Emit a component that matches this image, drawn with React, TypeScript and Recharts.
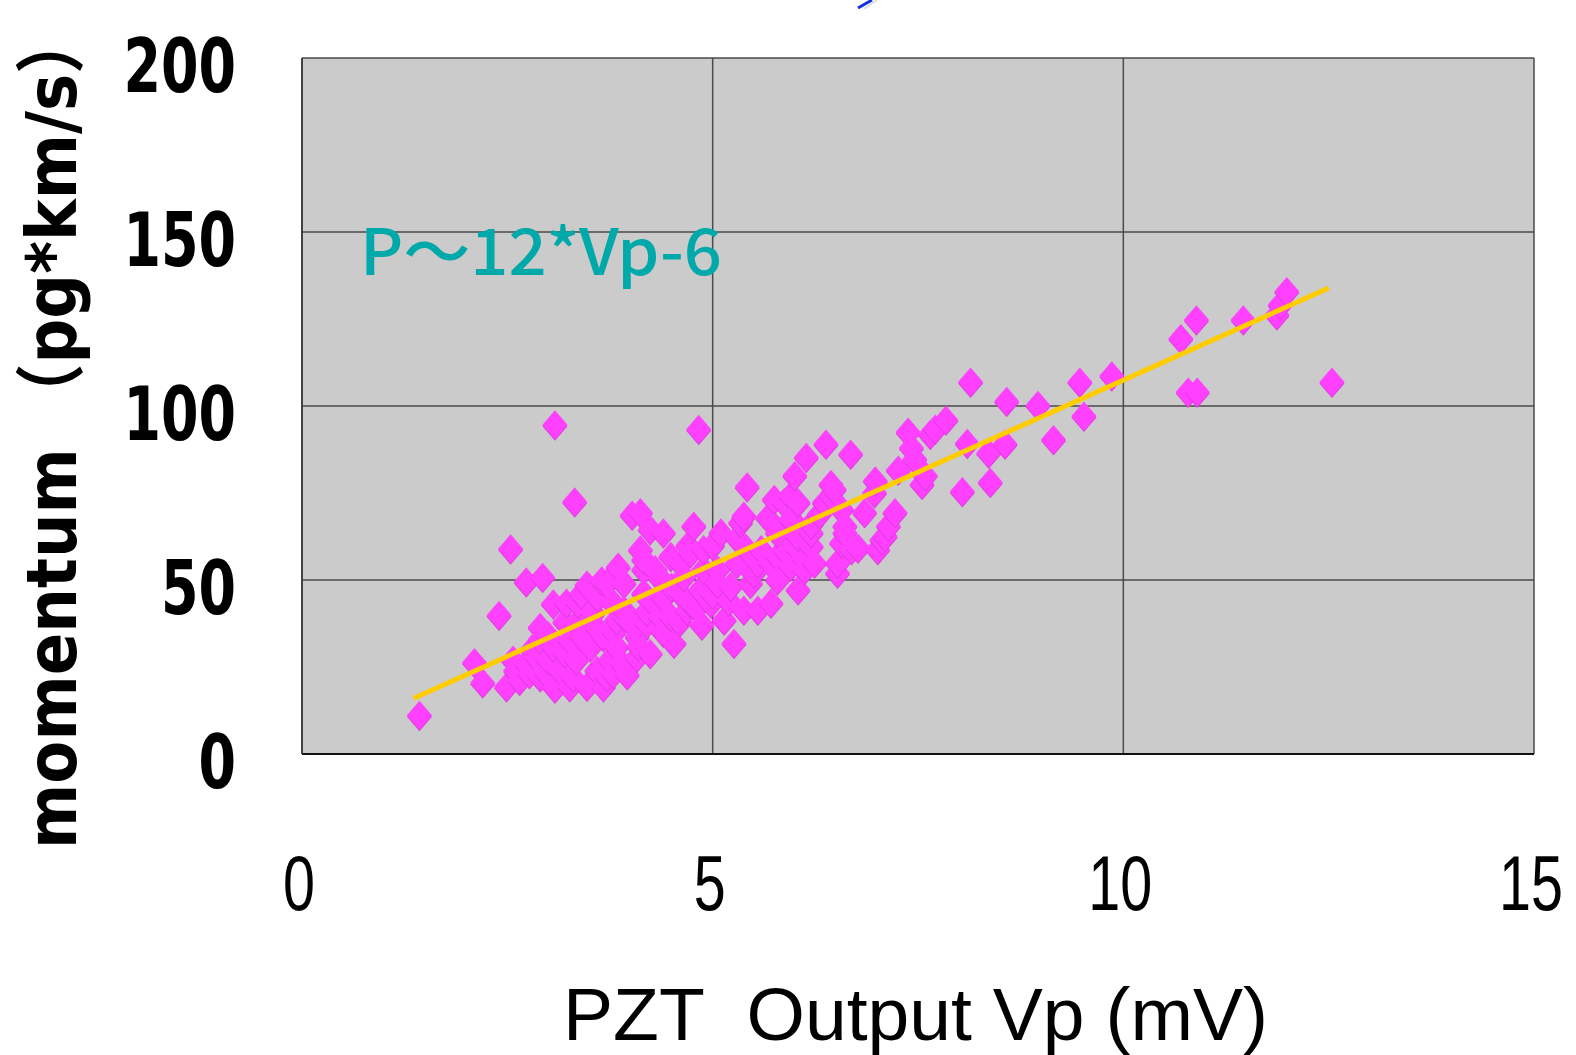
import { CartesianGrid, Scatter, ScatterChart, XAxis, YAxis } from "recharts"

const xTicks = [0, 5, 10, 15]
const yTicks = [0, 50, 100, 150, 200]

// [Vp (mV), momentum (pg*km/s)]
const ptsBelow3 = [
  [1.43, 11.1], [2.1, 26.3], [2.2, 20.5], [2.4, 39.9], [2.49, 19.3], [2.54, 59], [2.57, 27], [2.6, 24],
  [2.65, 21.2], [2.73, 49.5], [2.73, 26], [2.77, 23.1], [2.8, 30], [2.85, 27.9], [2.9, 22.2], [2.9, 36.4],
  [2.9, 33], [2.93, 50.8], [2.98, 23.1],
]
const pts3to4 = [
  [3.0, 27], [3.0, 34], [3.06, 30.8], [3.06, 43.2], [3.08, 19], [3.08, 94.6], [3.14, 24.1], [3.2, 29],
  [3.2, 38], [3.22, 43.4], [3.26, 32.7], [3.26, 19.3], [3.3, 22], [3.32, 72.5], [3.34, 27], [3.34, 37.6],
  [3.36, 43.4], [3.4, 34], [3.4, 46], [3.47, 48.6], [3.47, 19.5], [3.51, 30.8], [3.55, 40.5], [3.59, 24.1],
  [3.6, 36], [3.6, 45], [3.65, 49.8], [3.67, 33.7], [3.67, 19.3], [3.71, 22.2], [3.71, 49.1], [3.75, 27],
  [3.79, 43.4], [3.79, 23.1], [3.8, 35], [3.83, 30.8], [3.83, 38.5], [3.85, 53.7], [3.9, 26], [3.92, 39.5],
  [3.92, 49.1], [3.92, 41.4], [3.96, 22.8],
]
const pts4to5 = [
  [4.0, 38], [4.02, 68.7], [4.08, 33.7], [4.08, 27.9], [4.1, 31], [4.12, 69.4], [4.12, 58.7], [4.16, 53],
  [4.16, 55.9], [4.16, 46.2], [4.2, 37.6], [4.2, 41], [4.24, 64.5], [4.24, 28.9], [4.28, 43.4], [4.3, 53],
  [4.36, 50.6], [4.36, 39.5], [4.4, 63.6], [4.4, 45], [4.4, 35], [4.49, 56.8], [4.49, 39.5], [4.5, 48],
  [4.53, 31.8], [4.6, 38], [4.61, 54.9], [4.61, 46.2], [4.65, 51], [4.69, 41.4], [4.7, 60], [4.73, 57.8],
  [4.73, 43.4], [4.77, 65.5], [4.8, 42], [4.83, 93.3], [4.85, 47.2], [4.87, 37.1], [4.89, 53], [4.89, 58.8],
  [4.98, 43.4],
]
const pts5to6 = [
  [5.0, 46], [5.0, 60], [5.06, 53], [5.06, 49.1], [5.1, 63.6], [5.14, 38.5], [5.2, 44], [5.22, 48.2],
  [5.26, 31.8], [5.3, 54.9], [5.3, 62], [5.34, 66.5], [5.38, 68.4], [5.38, 41.4], [5.42, 76.8], [5.42, 58.8],
  [5.46, 49.1], [5.5, 52], [5.55, 54.9], [5.55, 41.4], [5.59, 58.8], [5.67, 67.9], [5.7, 55], [5.71, 43.4],
  [5.75, 73.2], [5.79, 56.8], [5.79, 63.6], [5.79, 50.1], [5.87, 72.3], [5.9, 58], [5.95, 74.2], [5.95, 54],
  [5.95, 67.4],
]
const pts6to7 = [
  [6.0, 80], [6.0, 66.5], [6.04, 72.3], [6.04, 47.2], [6.04, 58.8], [6.04, 62.6], [6.12, 55.9], [6.12, 53],
  [6.14, 85.3], [6.2, 59.7], [6.2, 63.6], [6.2, 66], [6.24, 54.9], [6.3, 69], [6.36, 72.3], [6.38, 89.1],
  [6.44, 77.5], [6.44, 74.2], [6.48, 76.1], [6.52, 52], [6.52, 54.9], [6.57, 60.7], [6.57, 70.3], [6.61, 65.5],
  [6.61, 63.6], [6.68, 86.2], [6.69, 58.8], [6.77, 59.2], [6.85, 69.4], [6.97, 75.1], [6.98, 78.5], [7.01, 58.8],
]
const ptsAbove7 = [
  [7.06, 61.6], [7.1, 62.6], [7.14, 65.5], [7.22, 69.4], [7.26, 81.6], [7.38, 92.5], [7.42, 88], [7.46, 84.8],
  [7.55, 77.5], [7.59, 80], [7.65, 91.9], [7.71, 93.4], [7.84, 96], [8.04, 75.4], [8.1, 89.3], [8.14, 106.9],
  [8.36, 86.5], [8.38, 78.1], [8.56, 89.1], [8.58, 101.4], [8.96, 100.2], [9.15, 90.4], [9.47, 106.9],
  [9.52, 97.1], [9.86, 108.7], [10.7, 119.4], [10.79, 104], [10.9, 104], [10.89, 124.8], [11.46, 124.8],
  [11.87, 126.2], [11.91, 129.1], [11.99, 132.9], [12.54, 106.9],
]
// fitted line end points
const trendX = [1.36, 12.5]
const trendY = [16.0, 133.9]

const points = [...ptsBelow3, ...pts3to4, ...pts4to5, ...pts5to6, ...pts6to7, ...ptsAbove7].map(([x, y]) => ({ x, y }))
const trend = trendX.map((x, i) => ({ x, y: trendY[i] }))

function Diamond(props: any) {
  const { cx, cy } = props
  if (cx == null || cy == null) return <g />
  const w = 12.5
  const h = 14.5
  return (
    <g>
      <polygon points={`${cx},${cy - h + 1.5} ${cx + w},${cy + 1.5} ${cx},${cy + h + 1.5} ${cx - w},${cy + 1.5}`} fill="#E03CE0" />
      <polygon points={`${cx},${cy - h} ${cx + w},${cy} ${cx},${cy + h} ${cx - w},${cy}`} fill="#FF40FF" />
    </g>
  )
}

function YTick(props: any) {
  const { y, payload } = props
  const s = String(payload.value)
  return (
    <text
      x={236}
      y={y + 34}
      textAnchor="end"
      fontFamily="DejaVu Sans"
      fontWeight="bold"
      fontSize={74}
      fill="#000"
      textLength={37.5 * s.length}
      lengthAdjust="spacingAndGlyphs"
    >
      {s}
    </text>
  )
}

function XTick(props: any) {
  const { x, payload } = props
  const s = String(payload.value)
  return (
    <text
      x={x - 3}
      y={910}
      textAnchor="middle"
      fontFamily="Liberation Sans"
      fontSize={78}
      fill="#000"
      textLength={32 * s.length}
      lengthAdjust="spacingAndGlyphs"
    >
      {s}
    </text>
  )
}

export default function App() {
  return (
    <div style={{ position: "absolute", left: 0, top: 0, width: 1576, height: 1055, background: "#fff" }}>
      <ScatterChart width={1576} height={1055} margin={{ top: 58, right: 42, bottom: 201, left: 102 }}>
        <CartesianGrid fill="#CBCBCB" stroke="#4a4a4a" strokeWidth={1.5} />
        <XAxis
          type="number"
          dataKey="x"
          domain={[0, 15]}
          ticks={xTicks}
          height={100}
          tick={<XTick />}
          tickLine={false}
          axisLine={{ stroke: "#111", strokeWidth: 2 }}
        />
        <YAxis
          type="number"
          dataKey="y"
          domain={[0, 200]}
          ticks={yTicks}
          width={200}
          tick={<YTick />}
          tickLine={false}
          axisLine={{ stroke: "#333", strokeWidth: 1.5 }}
        />
        <Scatter data={points} shape={<Diamond />} isAnimationActive={false} />
        <Scatter
          data={trend}
          line={{ stroke: "#FFCC00", strokeWidth: 5 }}
          shape={() => <g />}
          isAnimationActive={false}
        />
      </ScatterChart>
      <svg width={1576} height={1055} style={{ position: "absolute", left: 0, top: 0, pointerEvents: "none" }}>
        <line x1={872} y1={0} x2={858} y2={8} stroke="#1030E0" strokeWidth={3} />
        <line x1={877} y1={0} x2={864} y2={9} stroke="#ddd" strokeWidth={2} />
        <text
          x={360}
          y={275}
          fontFamily="Noto Sans CJK JP"
          fontWeight={500}
          fontSize={64}
          fill="#00A9A9"
          textLength={362}
          lengthAdjust="spacingAndGlyphs"
        >
          P～12*Vp-6
        </text>
        <text
          transform="translate(76, 849) rotate(-90)"
          fontFamily="DejaVu Sans, Noto Sans CJK JP"
          fontWeight="bold"
          fontSize={70}
          fill="#000"
          textLength={838}
          lengthAdjust="spacingAndGlyphs"
        >
          momentum （pg*km/s）
        </text>
        <text
          x={563}
          y={1040}
          fontFamily="Liberation Sans"
          fontSize={75}
          fill="#000"
          textLength={705}
          lengthAdjust="spacingAndGlyphs"
        >
          {"PZT\u00A0\u00A0Output Vp (mV)"}
        </text>
      </svg>
    </div>
  )
}
